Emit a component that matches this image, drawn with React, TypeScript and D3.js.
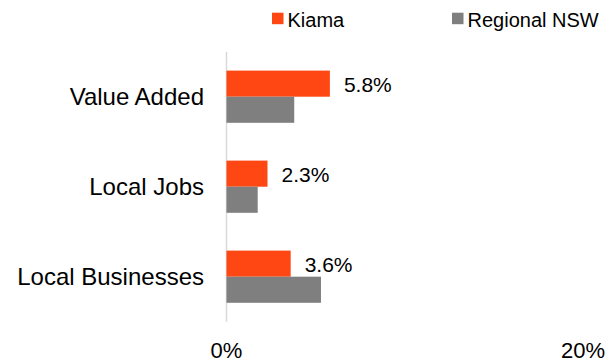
import React, { useEffect, useRef } from 'react';
import * as d3 from 'd3';

const categories = ['Value Added', 'Local Jobs', 'Local Businesses'];
const seriesNames = ['Kiama', 'Regional NSW'];
const kiama = [5.8, 2.3, 3.6];
const regional = [3.8, 1.75, 5.3];
const xTicks = [0, 20];
const colors = ['#FF4713', '#7F7F7F'];

const App: React.FC = () => {
  const svgRef = useRef<SVGSVGElement>(null);

  useEffect(() => {
    if (!svgRef.current) return;
    const svg = d3.select(svgRef.current);
    svg.selectAll('*').remove();

    const font = 'Liberation Sans, Arial, sans-serif';
    const x = d3.scaleLinear().domain([0, 20]).range([226.5, 583]);
    const y = d3.scaleBand<string>().domain(categories).range([51.7, 321.7]).paddingInner(0.42).paddingOuter(0.21);
    const sub = d3.scaleBand<string>().domain(seriesNames).range([0, y.bandwidth()]);

    const rows = categories.map((c, i) => ({ c, vals: [kiama[i], regional[i]] }));

    // axis line
    svg.append('line')
      .attr('x1', x(0)).attr('x2', x(0))
      .attr('y1', 51.7).attr('y2', 321.7)
      .attr('stroke', '#D9D9D9').attr('stroke-width', 1.5);

    const g = svg.selectAll('g.row').data(rows).enter().append('g')
      .attr('transform', d => `translate(0,${y(d.c)})`);

    g.selectAll('rect').data(d => d.vals.map((v, k) => ({ v, k }))).enter().append('rect')
      .attr('x', x(0))
      .attr('y', d => sub(seriesNames[d.k])!)
      .attr('width', d => x(d.v) - x(0))
      .attr('height', sub.bandwidth())
      .attr('fill', d => colors[d.k]);

    // data labels for Kiama
    g.append('text')
      .attr('x', d => x(d.vals[0]) + 14)
      .attr('y', sub.bandwidth() / 2 + 8)
      .attr('font-family', font).attr('font-size', 21).attr('fill', '#000')
      .text(d => d.vals[0].toFixed(1) + '%');

    // category labels
    svg.selectAll('text.cat').data(categories).enter().append('text')
      .attr('x', 204)
      .attr('y', d => y(d)! + y.bandwidth() / 2 + 8)
      .attr('text-anchor', 'end')
      .attr('font-family', font).attr('font-size', 24).attr('fill', '#000')
      .text(d => d);

    // x tick labels
    svg.selectAll('text.tick').data(xTicks).enter().append('text')
      .attr('x', d => x(d))
      .attr('y', 358)
      .attr('text-anchor', 'middle')
      .attr('font-family', font).attr('font-size', 22).attr('fill', '#000')
      .text(d => d + '%');

    // legend
    const legendX = [272, 452];
    seriesNames.forEach((s, i) => {
      svg.append('rect')
        .attr('x', legendX[i]).attr('y', 12.7)
        .attr('width', 11.5).attr('height', 11.5)
        .attr('fill', colors[i]);
      svg.append('text')
        .attr('x', legendX[i] + 15.5).attr('y', 26.5)
        .attr('font-family', font).attr('font-size', 20).attr('fill', '#000')
        .text(s);
    });
  }, []);

  return <svg ref={svgRef} width={610} height={364} style={{ position: 'absolute', left: 0, top: 0, background: '#fff' }} />;
};

export default App;
